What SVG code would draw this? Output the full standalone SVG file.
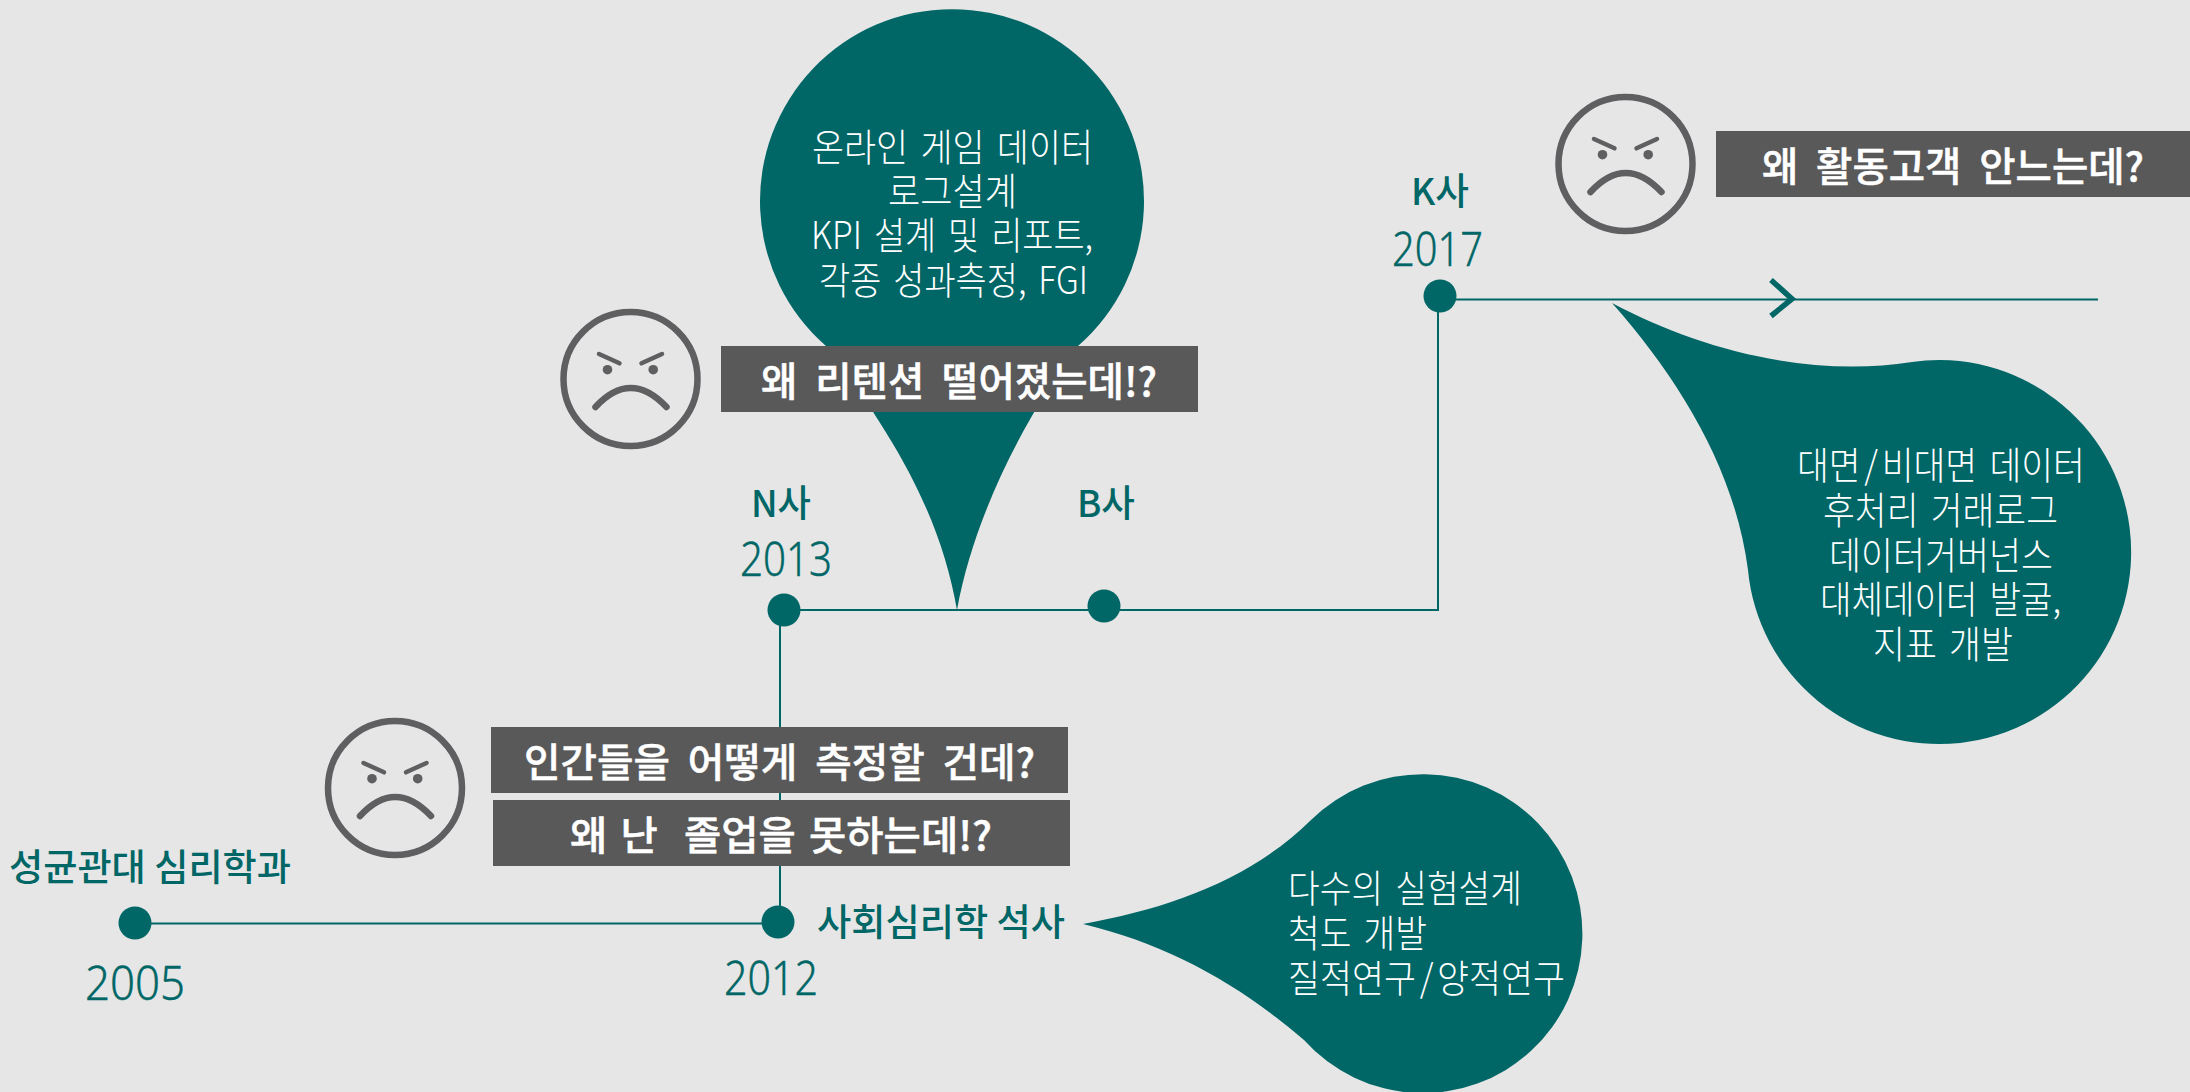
<svg xmlns="http://www.w3.org/2000/svg" width="2190" height="1092" viewBox="0 0 2190 1092">
<style>
text{font-family:"Noto Sans CJK KR","Noto Sans",sans-serif;white-space:pre}
.b{fill:#006666}
.c{fill:none;stroke:#006666;stroke-width:2}
.w{fill:#fff;font-size:38px;font-weight:300;word-spacing:5px}
.q{fill:#fff;font-size:40px;font-weight:500;word-spacing:9px;stroke:#fff;stroke-width:.5}
.l{fill:#006666;font-size:37px;font-weight:500}
.y{fill:#006666;font-size:47px;font-weight:300;font-family:"Noto Sans",sans-serif;stroke:#006666;stroke-width:.4}
.box{fill:#595959}
.f{fill:none;stroke:#5f5f62;stroke-linecap:round}
</style>
<defs>
<filter id="soft" x="-5%" y="-5%" width="110%" height="110%"><feGaussianBlur stdDeviation="0.7"/></filter>
<g id="face" filter="url(#soft)">
<ellipse rx="67" ry="67" class="f" stroke-width="6.5"/>
<path d="M-31.5,-25 L-11,-15.7 M31.5,-25 L11,-15.7" class="f" stroke-width="4.5"/>
<circle cx="-23" cy="-9.3" r="4.8" fill="#5f5f62"/><circle cx="22.7" cy="-9.3" r="4.8" fill="#5f5f62"/>
<path d="M-35,28 Q0,-10 36,28" class="f" stroke-width="6.5"/>
</g>
</defs>
<rect width="2190" height="1092" fill="#e6e6e6"/>
<g id="connectors">
<path class="c" stroke-width="2.5" d="M135,923.5H778"/>
<path class="c" d="M780,922V610"/>
<path class="c" d="M784,610H1438V299.5"/>
<path class="c" d="M1440,299.5H2098"/>
<path d="M1771,280L1792,299L1771,316" fill="none" stroke="#006666" stroke-width="5.5"/>
</g>
<g id="node-2005"><circle class="b" cx="135" cy="923" r="16.5"/><text class="l" x="9" y="881" textLength="282" lengthAdjust="spacingAndGlyphs">성균관대 심리학과</text><text class="y" x="85" y="1000" textLength="100" lengthAdjust="spacingAndGlyphs">2005</text></g>
<g id="node-2012"><circle class="b" cx="778" cy="922" r="16.5"/><text class="l" x="817" y="936" textLength="248" lengthAdjust="spacingAndGlyphs">사회심리학 석사</text><text class="y" x="724" y="995" textLength="94" lengthAdjust="spacingAndGlyphs">2012</text></g>
<g id="node-2013"><circle class="b" cx="784" cy="610" r="16.5"/><text class="l" x="751" y="517" textLength="60" lengthAdjust="spacingAndGlyphs">N사</text><text class="y" x="740" y="576" textLength="92" lengthAdjust="spacingAndGlyphs">2013</text></g>
<g id="node-b"><circle class="b" cx="1104" cy="606" r="16.5"/><text class="l" x="1077" y="517" textLength="58" lengthAdjust="spacingAndGlyphs">B사</text></g>
<g id="node-2017"><circle class="b" cx="1440" cy="296" r="16.5"/><text class="l" x="1411" y="205" textLength="58" lengthAdjust="spacingAndGlyphs">K사</text><text class="y" x="1392" y="266" textLength="91" lengthAdjust="spacingAndGlyphs">2017</text></g>
<g id="bubble-n">
<path class="b" d="M957,610C942,525 905,450 826,346A192,192 0 1 1 1078,346C1030,410 975,510 957,610Z"/>
<text class="w" x="812" y="161" textLength="281" lengthAdjust="spacingAndGlyphs">온라인 게임 데이터</text>
<text class="w" x="888" y="205" textLength="129" lengthAdjust="spacingAndGlyphs">로그설계</text>
<text class="w" x="811" y="249" textLength="282" lengthAdjust="spacingAndGlyphs">KPI 설계 및 리포트,</text>
<text class="w" x="819" y="294" textLength="269" lengthAdjust="spacingAndGlyphs">각종 성과측정, FGI</text>
</g>
<g id="bubble-k">
<path class="b" d="M1612,303C1700,350 1810,378 1912,362A192,192 0 1 1 1748,570C1735,470 1680,380 1612,303Z"/>
<text class="w" x="1797" y="479" textLength="288" lengthAdjust="spacingAndGlyphs">대면<tspan dx="4">/</tspan><tspan dx="4">비대면 데이터</tspan></text>
<text class="w" x="1823" y="524" textLength="235" lengthAdjust="spacingAndGlyphs">후처리 거래로그</text>
<text class="w" x="1829" y="569" textLength="224" lengthAdjust="spacingAndGlyphs">데이터거버넌스</text>
<text class="w" x="1820" y="613" textLength="241" lengthAdjust="spacingAndGlyphs">대체데이터 발굴,</text>
<text class="w" x="1873" y="658" textLength="140" lengthAdjust="spacingAndGlyphs">지표 개발</text>
</g>
<g id="bubble-s">
<path class="b" d="M1083,924C1170,908 1250,880 1311,820A159.5,159.5 0 1 1 1304,1040C1240,985 1170,945 1083,924Z"/>
<text class="w" x="1288" y="902" textLength="234" lengthAdjust="spacingAndGlyphs">다수의 실험설계</text>
<text class="w" x="1288" y="947" textLength="139" lengthAdjust="spacingAndGlyphs">척도 개발</text>
<text class="w" x="1288" y="992" textLength="277" lengthAdjust="spacingAndGlyphs">질적연구<tspan dx="4">/</tspan><tspan dx="4">양적연구</tspan></text>
</g>
<g id="face-1"><use href="#face" x="630.5" y="379"/></g>
<g id="face-2"><use href="#face" x="1625.5" y="164"/></g>
<g id="face-3"><use href="#face" x="395" y="788"/></g>
<g id="q-retention"><rect class="box" x="721" y="346" width="477" height="66"/><text class="q" x="761" y="396" textLength="396" lengthAdjust="spacingAndGlyphs">왜 리텐션 떨어졌는데!?</text></g>
<g id="q-active"><rect class="box" x="1716" y="131" width="474" height="66"/><text class="q" x="1762" y="181" textLength="382" lengthAdjust="spacingAndGlyphs">왜 활동고객 안느는데?</text></g>
<g id="q-measure"><rect class="box" x="491" y="727" width="577" height="66"/><text class="q" x="524" y="777" textLength="511" lengthAdjust="spacingAndGlyphs">인간들을 어떻게 측정할 건데?</text></g>
<g id="q-graduate"><rect class="box" x="493" y="800" width="577" height="66"/><text class="q" style="word-spacing:4px" x="570" y="850" textLength="422" lengthAdjust="spacingAndGlyphs">왜 난  졸업을 못하는데!?</text></g>
</svg>
